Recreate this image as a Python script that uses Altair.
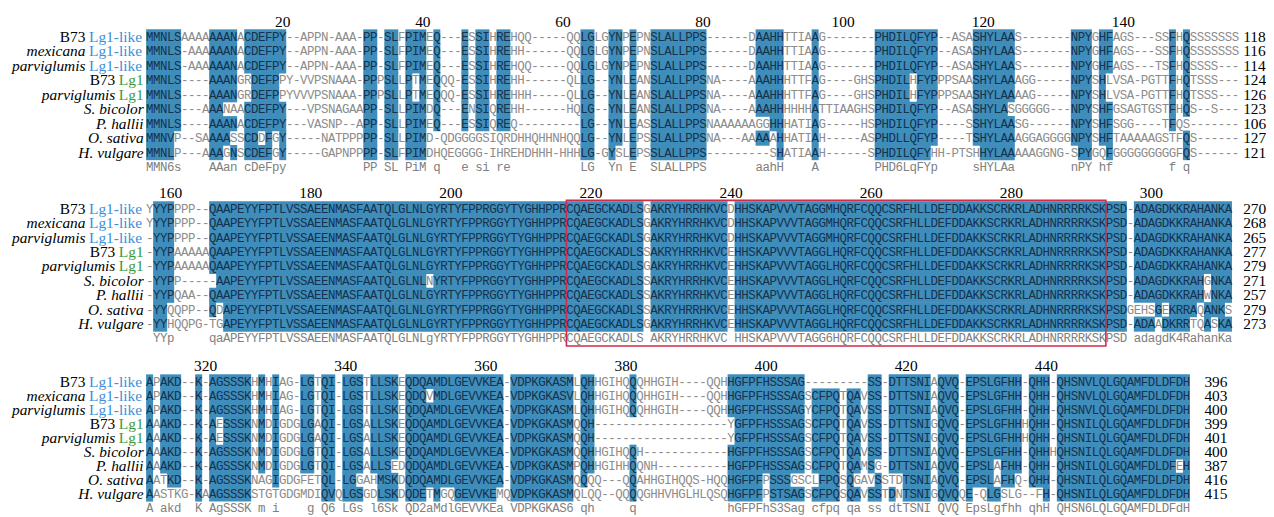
import altair as alt
import pandas as pd
from collections import Counter

# ---------------- data ----------------
SPECIES = ["B73", "mexicana", "parviglumis", "B73", "parviglumis",
           "S. bicolor", "P. hallii", "O. sativa", "H. vulgare"]
GENES = ["Lg1-like", "Lg1-like", "Lg1-like", "Lg1", "Lg1", "", "", "", ""]

BLOCK1 = [
    "MMNLSAAAAAAANACDEFPY--APPN-AAA-PP-SLFPIME" + "Q---ESSIHREHQQ-----QQLGLGYNPEPNSLALLPPS------DAAHHTTIAAG---" + "----PHDILQFYP--ASASHYLAAS-------NPYGHFAGS---SSFHQSSSSSSS",
    "MMNLS-AAAAAANACDEFPY--APPN-AAA-PP-SLFPIME" + "Q---ESSIHREHH------QQLGLGYNPEPNSLALLPPS------DAAHHTTIAAG---" + "----PHDILQFYP--ASASHYLAAS-------NPYGHFAGS---SSFHQSSSSSSS",
    "MMNLS-AAAAAANACDEFPY--APPN-AAA-PP-SLFPIME" + "Q---ESSIHREHQQ-----QQLGLGYNPEPNSLALLPPS------DAAHHTTIAAG---" + "----PHDILQFYP--ASASHYLAAS-------NPYGHFAGS---TSFHQSSSS---",
    "MMNLS----AAANGRDEFPPY-VVPSNAAA-PPPSLLPTME" + "QQQ-ESSIHREHH------QLLG--YNLEANSLALLPPSNA----AAAHHHTTFAG---" + "-GHSPHDILHFYPPPSAASHYLAAAGG-----NPYSHLVSA-PGTTFHQTSSS---",
    "MMNLS----AAANGRDEFPPYVVVPSNAAA-PPPSLLPTME" + "QQQ-ESSIHREHHH-----QLLG--YNLEANSLALLPPSNA----AAAHHHTTFAG---" + "-GHSPHDILHFYPPPSAASHYLAAAAG-----NPYSHLVSA-PGTTFHQTSSS---",
    "MMNLS---AAANAACDEFPY---VPSNAGAAPP-SLLPIMD" + "Q---ENSIQREHH------HQLG--YNLEANSLALLPPSNA----AAAHHHHHHATTIA" + "AGHSPHDILQFYP--ASASHYLASGGGGG---NPYSHFGSAGTGSTFHQS--S---",
    "MMNLS----AAANACDEFPY---VASNP--APP-SLLPIME" + "Q---ESSIQREQ---------LG--YNLEASSLALLPPSNAAAAAAGGHHHATIAG---" + "--HSPHDILQFYP----SSHYLAASG------NPYSHFSGG----TFQS-------",
    "MMNVP--SAAAASSCDDFGY-----NATPPPPP-SLLPIMD" + "-QDGGGGSIQRDHHQHHNHQQLG--YNLEPSSLALLPPSNA---AAAAAHHATIAH---" + "--ASPHDLLQFYP----TSHYLAAAGGAGGGGNPYSHFTAAAAAGSTFQS------",
    "MMNLP---AAAGNSCDEFGY-----GAPNPPPP-SLFPIMD" + "HQEGGGG-IHREHDHHH-HHHLG-GYSLEPSSLALLPPS---------SHATIAAH---" + "---SPHDILQFYHH-PTSHHYLAAAAAGGNG-SPYGQFGGGGGGGGGFQS------",
]

MID_A = "QAAPEYYFPTLVSSAEENMASFAATQLGLNL"
MID_B = "YRTYFPPRGGYTYGHHPPR"
BOXA = "CQAEGCKADLS"
BOXB = "AKRYHRRHKVC"
BOXC1 = "HHSKAPVVVTAGG"
BOXC2 = "HQRFCQQCSRFHLLDEFDDAKKSCRKRLADHNRRRRKSK"
BLOCK2 = [
    "YYYPPPP--" + MID_A + "G" + MID_B + BOXA + "G" + BOXB + "D" + BOXC1 + "M" + BOXC2 + "PSD-ADAGDKKRAHANKA",
    "YYYPPPP--" + MID_A + "G" + MID_B + BOXA + "G" + BOXB + "D" + BOXC1 + "M" + BOXC2 + "PSD-ADAGDKKRAHANKA",
    "-YYPPPP--" + MID_A + "G" + MID_B + BOXA + "G" + BOXB + "D" + BOXC1 + "M" + BOXC2 + "PSD-ADAGDKKRAHANKA",
    "-YYPAAAAA" + MID_A + "G" + MID_B + BOXA + "S" + BOXB + "E" + BOXC1 + "L" + BOXC2 + "PSD-ADAGDKKRAHANKA",
    "-YYPAAAAA" + MID_A + "G" + MID_B + BOXA + "G" + BOXB + "E" + BOXC1 + "L" + BOXC2 + "PSD-ADAGDKKRAHANKA",
    "-YYPP-----" + MID_A[1:] + "N" + MID_B + BOXA + "S" + BOXB + "E" + BOXC1 + "L" + BOXC2 + "PSD-ADAGDKKRAHGNKA",
    "-YYPQAA--" + MID_A + "G" + MID_B + BOXA + "S" + BOXB + "E" + BOXC1 + "L" + BOXC2 + "PSD-ADAGDKKRAHWNKA",
    "-YYQQPP--" + "QD" + MID_A[2:] + "G" + MID_B + BOXA + "S" + BOXB + "E" + BOXC1 + "L" + BOXC2 + "PSDGEHSGEKRRAQANKS",
    "-YYHQQPG-" + "TG" + MID_A[2:] + "G" + MID_B + BOXA + "G" + BOXB + "E" + BOXC1 + "L" + BOXC2 + "PSD-ADAADKRRTQASKA",
]

BLOCK3 = [
    "APAKD--K-AGSSSKHMHIAG-LGTQI-LGSTLLSKEQDQA" + "MDLGEVVKEA-VDPKGKAS" + "MLQHHGIHQQQHHGIH----QQH" + "HGFPFHSSSAG---------SS-DTTSNIAQVQ-EPSLGFHH-QHH-QHSNVLQLGQAMFDLDFDH",
    "APAKD--K-AGSSSKHMHIAG-LGTQI-LGSTLLSKEQDQV" + "MDLGEVVKEA-VDPKGKAS" + "VLQHHGIHQQQHHGIH----QQH" + "HGFPFHSSSAGSCFPQTQAVSS-DTTSNIAQVQ-EPSLGFHH-QHH-QHSNVLQLGQAMFDLDFDH",
    "APAKD--K-AGSSSKHMHIAG-LGTQI-LGSTLLSKEQDQA" + "MDLGEVVKEA-VDPKGKAS" + "MLQHHGIHQQQHHGIH----QQH" + "HGFPFHSSSAGYCFPQTQAVSS-DTTSNIAQVQ-EPSLGFHH-QHH-QHSNVLQLGQAMFDLDFDH",
    "AAAKD--K-AESSSKNMDIGDGLGAQI-LGSALLSKEQDQA" + "MDLGEVVKEA-VDPKGKAS" + "MQQH-------------------" + "YGFPFHSSSAGSCFPQTQAVSS-DTTSNIGQVQ-EPSLGFHHHQHH-QHSNILQLGQAMFDLDFDH",
    "AAAKD--K-AESSSKNMDIGDGLGAQI-LGSALLSKEQDQA" + "MDLGEVVKEA-VDPKGKAS" + "MQQH-------------------" + "YGFPFHSSSAGSCFPQTQAVSS-DTTSNIGQVQ-EPSLGFHHHQHH-QHSNILQLGQAMFDLDFDH",
    "AAAKD--K-AGSSSKNMDIGDGLGTQI-LGSALLSKEQDQA" + "MDLGEVVKEA-VDPKGKAS" + "MQQHHGIHQQH------------" + "HGFPFHSSSAGSCFPQTQAVSS-DTTSNIAQVQ-EPSLGFHH-QHHHQHSNILQLGQAMFDLDFDH",
    "AAAKD--K-AGSSSKNMDIGDGLGTQI-LGSALLSEDQDQA" + "MDLGEVVKEA-VDPKGKAS" + "MPQHHGIHHQQNH----------" + "HGFPFHSSSAGSCFPQTQAMSG-DTTSNIAQVQ-EPSLAFHH-QHH-QHSNILQLGQAMFDLDFEH",
    "AATKD--K-AGSSSKNAGIGDGFETQL-LGGAHMSKDQDQA" + "MDLGEVVKEA-VDPKGKAS" + "MQQQQ---QQAHHGIHQQS-HQQ" + "HGFPFPSSSGSCLFPQSQGAVSSTDTSNIAQVQ-EPSLAFHQ-QHH-QHSNILQLGQAMFDLDFDH",
    "AASTKG-KAAGSSSKSTGTGDGMDIQVQLGSGDLSKDQDET" + "MGQGEVVKEMQVDPKGKAS" + "MQLQQ--QQQQGHHVHGLHLQSQ" + "HGFPFPSTSAGSCFPQSQAVSSTDNTSNIGQVQQE-QLGSLG--FH-QHSNILQLGQAMFDLDFDH",
]

# consensus rows: (first column, text)
CONS1 = [(1, "MMN6s"), (10, "AAan"), (15, "cDeFpy"), (32, "PP"), (35, "SL"), (38, "PiM"),
         (42, "q"), (46, "e"), (48, "si"), (51, "re"), (63, "LG"), (67, "Yn"), (70, "E"),
         (73, "SLALLPPS"), (88, "aahH"), (96, "A"), (105, "PHD6LqFYp"), (119, "sHYLAa"),
         (133, "nPY"), (137, "hf"), (147, "f"), (149, "q")]
CONS2 = [(2, "YYp"), (10, "qaAPEYYFPTLVSSAEENMASFAATQLGLNLgYRTYFPPRGGYTYGHHPPRCQAEGCKADLS"),
         (73, "AKRYHRRHKVC"), (85, "HHSKAPVVVTAGG6HQRFCQQCSRFHLLDEFDDAKKSCRKRLADHNRRRRKSKPSD"),
         (142, "adagdK4RahanKa")]
CONS3 = [(1, "A"), (3, "akd"), (8, "K"), (10, "AgSSSK"), (17, "m"), (19, "i"), (24, "g"),
         (26, "Q6"), (29, "LGs"), (33, "l6Sk"), (38, "QD2aMdlGEVVKEa"), (53, "VDPKGKAS6"),
         (63, "qh"), (70, "q"), (84, "hGFPFhS3Sag"), (96, "cfpq"), (101, "qa"), (104, "ss"),
         (107, "dtTSNI"), (114, "QVQ"), (118, "EpsLgfhh"), (127, "qhH"),
         (131, "QHSN6LQLGQAMFDLDFdH")]

ENDS1 = [118, 116, 114, 124, 126, 123, 106, 127, 121]
ENDS2 = [270, 268, 265, 277, 279, 271, 257, 279, 273]
ENDS3 = [396, 403, 400, 399, 401, 400, 387, 416, 415]
TICKS1 = [20, 40, 60, 80, 100, 120, 140]
TICKS2 = [160, 180, 200, 220, 240, 260, 280, 300]
TICKS3 = [320, 340, 360, 380, 400, 420, 440]
FIRST = [1, 157, 312]

# ---------------- layout / style ----------------
W, H = 1266, 509
CW = 7.05            # px per alignment column
X0 = 147.0           # page x of first column's left edge
ROW1 = [35.5, 208.5, 382.5]
PITCH = [14.55, 14.5, 14.15]
RIGHT_PX = [1251.0, 1251.0, 1212.0]
GENE_LEFT_PX = {"Lg1-like": 89.5, "Lg1": 119.5}
LABEL_RIGHT_PX = 144.5

HL = "#3f8dba"
TXT_HL = "#15324f"
TXT_NO = "#8c8c8c"
CONS_C = "#808080"
RED = "#cf2d4b"
BLUE = "#3d8fd8"
GREEN = "#3a9a3c"
MONO = "Liberation Mono"
SERIF = "Liberation Serif"
LAB_FS = 15.5
SEQ_FS = 12.5

def u_of(px):
    return (px - X0) / CW

def ypos(b, r):
    return ROW1[b] + (r - 1) * PITCH[b]

xs = alt.Scale(domain=[u_of(8), u_of(8 + W)], nice=False, zero=False)
ys = alt.Scale(domain=[8, 8 + H], nice=False, zero=False, reverse=True)

def highlights(rows, cons):
    n = len(rows[0])
    hl = [[False] * n for _ in rows]
    for c in range(n):
        col = [r[c] for r in rows]
        if cons[c].isdigit():
            for i, ch in enumerate(col):
                if ch != "-":
                    hl[i][c] = True
            continue
        cnt = Counter(ch for ch in col if ch != "-")
        if cnt:
            top, k = cnt.most_common(1)[0]
            if k >= 7:
                for i, ch in enumerate(col):
                    if ch == top:
                        hl[i][c] = True
    return hl

blocks = [(BLOCK1, CONS1, ENDS1, TICKS1), (BLOCK2, CONS2, ENDS2, TICKS2), (BLOCK3, CONS3, ENDS3, TICKS3)]

cells, runs, conss, ticks, labs, ends = [], [], [], [], [], []
for b, (rows, cseg, endv, tickv) in enumerate(blocks):
    n = max(len(r) for r in rows)
    rows = [r + "-" * (n - len(r)) for r in rows]
    cons = [" "] * n
    for start, s in cseg:
        for j, ch in enumerate(s):
            if start - 1 + j < n:
                cons[start - 1 + j] = ch
    hl = highlights(rows, cons)
    P = PITCH[b]
    for i, r in enumerate(rows):
        y = ypos(b, i + 1)
        c = 0
        while c < n:
            if hl[i][c]:
                c2 = c
                while c2 < n and hl[i][c2]:
                    c2 += 1
                runs.append(dict(u0=c, u1=c2, y0=y - P / 2 - 0.35, y1=y + P / 2 + 0.35))
                c = c2
            else:
                c += 1
        for c, ch in enumerate(r):
            cells.append(dict(u=c + 0.5, y=y, ch=ch, st="hl" if hl[i][c] else "no"))
        g = GENES[i]
        if g:
            g_left = GENE_LEFT_PX[g]
            sp_right = g_left - 3.5
        else:
            g_left = LABEL_RIGHT_PX
            sp_right = LABEL_RIGHT_PX
        labs.append(dict(u=u_of(sp_right), y=y, sp=SPECIES[i], gene=g, ga=u_of(g_left),
                         kind="b73" if SPECIES[i] == "B73" else "ital"))
        ends.append(dict(u=u_of(RIGHT_PX[b]), y=y, t=str(endv[i])))
    yc = ypos(b, 10)
    for c, ch in enumerate(cons):
        if ch != " ":
            conss.append(dict(u=c + 0.5, y=yc, ch=ch))
    for t in tickv:
        ticks.append(dict(u=t - FIRST[b] + 0.5, y=ROW1[b] - 15.5, t=str(t)))

cells = pd.DataFrame(cells)
runs = pd.DataFrame(runs)
conss = pd.DataFrame(conss)
ticks = pd.DataFrame(ticks)
labs = pd.DataFrame(labs)
ends = pd.DataFrame(ends)
box = pd.DataFrame([dict(u0=60, u1=137, y0=ROW1[1] - 8.5, y1=ypos(1, 10) + 7.5)])

X = lambda f: alt.X(f, scale=xs, axis=None)
Y = lambda f: alt.Y(f, scale=ys, axis=None)

rect_l = alt.Chart(runs).mark_rect(color=HL, strokeWidth=0).encode(
    x=X("u0:Q"), x2="u1:Q", y=Y("y0:Q"), y2="y1:Q")

seq_l = alt.Chart(cells).mark_text(font=MONO, fontSize=SEQ_FS, align="center", baseline="middle").encode(
    x=X("u:Q"), y=Y("y:Q"), text="ch:N",
    color=alt.Color("st:N", scale=alt.Scale(domain=["hl", "no"], range=[TXT_HL, TXT_NO]), legend=None))

cons_l = alt.Chart(conss).mark_text(font=MONO, fontSize=SEQ_FS, align="center", baseline="middle",
                                    color=CONS_C).encode(x=X("u:Q"), y=Y("y:Q"), text="ch:N")

tick_l = alt.Chart(ticks).mark_text(font=SERIF, fontSize=LAB_FS, align="center", baseline="middle",
                                    color="black").encode(x=X("u:Q"), y=Y("y:Q"), text="t:N")

b73_l = alt.Chart(labs[labs.kind == "b73"]).mark_text(
    font=SERIF, fontSize=LAB_FS, align="right", baseline="middle", color="black").encode(
    x=X("u:Q"), y=Y("y:Q"), text="sp:N")

ital_l = alt.Chart(labs[labs.kind == "ital"]).mark_text(
    font=SERIF, fontSize=LAB_FS, fontStyle="italic", align="right", baseline="middle",
    color="black").encode(x=X("u:Q"), y=Y("y:Q"), text="sp:N")

gene_l = alt.Chart(labs[labs.gene != ""]).mark_text(
    font=SERIF, fontSize=LAB_FS, align="left", baseline="middle").encode(
    x=X("ga:Q"), y=Y("y:Q"), text="gene:N",
    color=alt.Color("gene:N", scale=alt.Scale(domain=["Lg1-like", "Lg1"], range=[BLUE, GREEN]),
                    legend=None))

end_l = alt.Chart(ends).mark_text(font=SERIF, fontSize=LAB_FS, align="left", baseline="middle",
                                  color="black").encode(x=X("u:Q"), y=Y("y:Q"), text="t:N")

box_l = alt.Chart(box).mark_rect(filled=False, stroke=RED, strokeWidth=1.6).encode(
    x=X("u0:Q"), x2="u1:Q", y=Y("y0:Q"), y2="y1:Q")

chart = alt.layer(rect_l, seq_l, cons_l, tick_l, b73_l, ital_l, gene_l, end_l, box_l).properties(
    width=W, height=H, padding=0, autosize=alt.AutoSizeParams(type="none")
).configure_view(strokeWidth=0).resolve_scale(color="independent")

chart.save("out.html", embed_options={"renderer": "svg", "actions": False})
